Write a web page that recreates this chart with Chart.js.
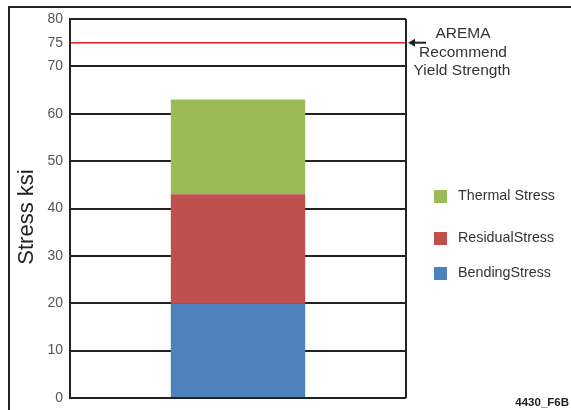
<!DOCTYPE html>
<html>
<head>
<meta charset="utf-8">
<script src="https://cdn.jsdelivr.net/npm/chart.js@4"></script>
<style>
  html, body { margin: 0; padding: 0; background: #fff; }
  #wrap { width: 571px; height: 410px; }
</style>
</head>
<body>
<div id="wrap"><canvas id="stressChart" width="571" height="410"></canvas></div>
<script>
const categories = [''];
const bendingStress = [20];
const residualStress = [23];
const thermalStress = [20];
const yTicks = [0, 10, 20, 30, 40, 50, 60, 70, 75, 80];
const yieldLimit = 75;
const legendLabels = ['Thermal Stress', 'ResidualStress', 'BendingStress'];

const GREEN = '#9bbb59';
const RED = '#c0504d';
const BLUE = '#4f81bd';
const INK = '#222';

// frame, right border, axis title, yield note, custom legend and figure tag
const extras = {
  id: 'extras',
  afterDraw(chart) {
    const ctx = chart.ctx;
    const area = chart.chartArea;
    const y = chart.scales.y;
    ctx.save();

    // outer frame (left + top)
    ctx.strokeStyle = INK;
    ctx.lineWidth = 2;
    ctx.beginPath();
    ctx.moveTo(9, 410);
    ctx.lineTo(9, 7);
    ctx.lineTo(571, 7);
    ctx.stroke();

    // right side of plot box
    ctx.beginPath();
    ctx.moveTo(area.right, area.top);
    ctx.lineTo(area.right, area.bottom);
    ctx.stroke();

    // y axis title
    ctx.save();
    ctx.translate(27, 217);
    ctx.rotate(-Math.PI / 2);
    ctx.fillStyle = '#222';
    ctx.font = '22px "Liberation Sans", Arial, sans-serif';
    ctx.textAlign = 'center';
    ctx.textBaseline = 'middle';
    ctx.fillText('Stress ksi', 0, 0);
    ctx.restore();

    // arrow to the yield line
    const yy = y.getPixelForValue(yieldLimit);
    ctx.beginPath();
    ctx.moveTo(426, yy);
    ctx.lineTo(412, yy);
    ctx.stroke();
    ctx.fillStyle = INK;
    ctx.beginPath();
    ctx.moveTo(408, yy);
    ctx.lineTo(415, yy - 4);
    ctx.lineTo(415, yy + 4);
    ctx.closePath();
    ctx.fill();

    ctx.fillStyle = '#333';
    ctx.font = '15.5px "Liberation Sans", Arial, sans-serif';
    ctx.textAlign = 'center';
    ctx.textBaseline = 'middle';
    ctx.fillText('AREMA', 463, 34);
    ctx.fillText('Recommend', 463, 53);
    ctx.fillText('Yield Strength', 462, 71);

    // legend
    const colors = [GREEN, RED, BLUE];
    const ys = [196, 238, 273];
    ctx.textAlign = 'left';
    ctx.font = '14.3px "Liberation Sans", Arial, sans-serif';
    legendLabels.forEach((t, i) => {
      ctx.fillStyle = colors[i];
      ctx.fillRect(434, ys[i] - 6, 13, 13);
      ctx.fillStyle = '#333';
      ctx.fillText(t, 458, ys[i]);
    });

    ctx.font = 'bold 11.5px "Liberation Sans", Arial, sans-serif';
    ctx.fillStyle = '#222';
    ctx.textAlign = 'right';
    ctx.fillText('4430_F6B', 569, 403);
    ctx.restore();
  }
};

new Chart(document.getElementById('stressChart'), {
  type: 'bar',
  data: {
    labels: categories,
    datasets: [
      { label: 'BendingStress', data: bendingStress, backgroundColor: BLUE },
      { label: 'ResidualStress', data: residualStress, backgroundColor: RED },
      { label: 'Thermal Stress', data: thermalStress, backgroundColor: GREEN }
    ]
  },
  options: {
    responsive: false,
    animation: false,
    layout: { padding: { left: 0, right: 165, top: 19, bottom: 12 } },
    datasets: { bar: { categoryPercentage: 0.8, barPercentage: 0.5 } },
    plugins: { legend: { display: false }, tooltip: { enabled: false } },
    scales: {
      x: {
        stacked: true,
        display: false
      },
      y: {
        stacked: true,
        min: 0,
        max: 80,
        afterFit(scale) {
          scale.width = 70;
          scale.paddingTop = 0;
          scale.paddingBottom = 0;
        },
        afterBuildTicks(scale) { scale.ticks = yTicks.map(v => ({ value: v })); },
        border: { display: true, color: INK, width: 2 },
        grid: {
          drawTicks: false,
          color: c => (c.tick && c.tick.value === yieldLimit ? '#e02020' : INK),
          lineWidth: c => (c.tick && c.tick.value === yieldLimit ? 1.5 : 2)
        },
        ticks: {
          padding: 7,
          color: '#555',
          font: { family: '"Liberation Sans", Arial, sans-serif', size: 14 }
        }
      }
    }
  },
  plugins: [extras]
});
</script>
</body>
</html>
